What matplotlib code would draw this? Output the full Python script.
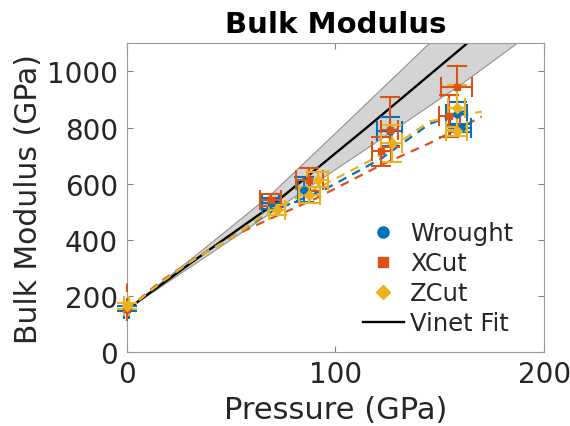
import numpy as np
import matplotlib
matplotlib.use("Agg")
import matplotlib.pyplot as plt
from matplotlib.lines import Line2D

# ---------------- data ----------------
# Vinet fit and its uncertainty band
fit_P = [0, 35, 69, 115, 163]
fit_K = [150, 340, 519, 800, 1100]
band_up_P = [0, 35, 69, 105, 145]
band_up_K = [150, 355, 560, 815, 1100]
band_lo_P = [0, 69, 120, 161, 187]
band_lo_K = [150, 495, 750, 958, 1100]

# per-sample dashed trend lines
wrought_line_P = [0, 16, 32, 53, 67.5, 95, 122, 145, 165.5]
wrought_line_K = [150, 245, 329, 420, 495, 580, 690, 813, 869]
xcut_line_P = [0, 16, 32, 53, 67.5, 90, 122, 145, 170]
xcut_line_K = [150, 250, 330, 420, 471, 545, 667, 744, 839]
zcut_line_P = [0, 16, 32, 53, 67.5, 96, 122, 145, 170]
zcut_line_K = [150, 245, 329, 420, 500, 602, 703, 822, 857]

# measured points
wrought_P = [0, 69, 85, 126, 158, 160]
wrought_K = [155, 530, 578, 786, 850, 798]
wrought_Kerr = [10, 20, 45, 50, 40, 15]
wrought_Perr = [1, 4, 3, 6, 5, 5]

xcut_P = [0, 69, 87.5, 122, 126, 154.5, 158]
xcut_K = [155, 542, 614, 715, 792, 842, 946]
xcut_Kerr_lo = [43, 20, 41, 53, 60, 74, 75]
xcut_Kerr_hi = [95, 20, 41, 53, 118, 74, 75]
xcut_Perr = [0.5, 5, 6.5, 4.5, 4, 5, 7.6]

zcut_P = [0, 72, 87.5, 91.6, 127, 158, 158]
zcut_K = [165, 507, 560, 614, 744, 786, 870]
zcut_Kerr = [10, 18, 28, 27, 65, 15, 80]
zcut_Perr = [1, 4, 5, 5, 5, 5, 4]

labels = ["Wrought", "XCut", "ZCut", "Vinet Fit"]
x_ticks = [0, 100, 200]
y_ticks = [0, 200, 400, 600, 800, 1000]

# ---------------- style ----------------
blue, orange, yellow = "#0072BD", "#D95319", "#EDB120"
txt = "#262626"
plt.rcParams["font.family"] = ["DejaVu Sans"]

fig = plt.figure(figsize=(5.7, 4.27), dpi=100)
ax = fig.add_axes([0.222, 0.1733, 0.733, 0.7227])

# band
poly_P = np.concatenate([band_up_P, band_lo_P[::-1]])
poly_K = np.concatenate([band_up_K, band_lo_K[::-1]])
ax.fill(poly_P, poly_K, facecolor="#d4d4d4", edgecolor="none", zorder=1)
ax.plot(band_up_P, band_up_K, color="#909090", lw=0.8, zorder=1.5)
ax.plot(band_lo_P, band_lo_K, color="#909090", lw=0.8, zorder=1.5)
ax.plot(fit_P, fit_K, color="black", lw=1.7, zorder=2)

# dashed trend lines
for P, K, c in [(wrought_line_P, wrought_line_K, blue),
                (xcut_line_P, xcut_line_K, orange),
                (zcut_line_P, zcut_line_K, yellow)]:
    ax.plot(P, K, color=c, lw=1.6, ls=(0, (4, 3)), zorder=3)

# error bars
ekw = dict(ls="none", elinewidth=1.5, capsize=7, capthick=1.5, zorder=4, clip_on=False)
ax.errorbar(wrought_P, wrought_K, yerr=wrought_Kerr, xerr=wrought_Perr,
            color=blue, marker="o", ms=5, **ekw)
# XCut ambient point drawn with a dashed bar, as in the original
eb0 = ax.errorbar(xcut_P[:1], xcut_K[:1], yerr=[xcut_Kerr_lo[:1], xcut_Kerr_hi[:1]],
                  xerr=xcut_Perr[:1], color=orange, marker="s", ms=5,
                  ls="none", elinewidth=1.5, capsize=0, zorder=4, clip_on=False)
for bc in eb0[2]:
    bc.set_linestyle((0, (4, 3)))
ax.errorbar(xcut_P[1:], xcut_K[1:], yerr=[xcut_Kerr_lo[1:], xcut_Kerr_hi[1:]],
            xerr=xcut_Perr[1:], color=orange, marker="s", ms=5, **ekw)
ax.errorbar(zcut_P, zcut_K, yerr=zcut_Kerr, xerr=zcut_Perr,
            color=yellow, marker="D", ms=5, **ekw)

ax.set_xlim(0, 200)
ax.set_ylim(0, 1100)
ax.set_xticks(x_ticks)
ax.set_yticks(y_ticks)
ax.tick_params(direction="in", length=4, width=0.8, colors="#808080",
               labelcolor=txt, labelsize=20, top=True, right=True, pad=6)
for s in ax.spines.values():
    s.set_color("#9a9a9a")
    s.set_linewidth(0.8)

ax.set_xlabel("Pressure (GPa)", fontsize=22, color=txt, labelpad=5)
ax.set_ylabel("Bulk Modulus (GPa)", fontsize=21.5, color=txt, labelpad=3)
ax.set_title("Bulk Modulus", fontsize=21, fontweight="bold", color="black", pad=8)

handles = [
    Line2D([], [], ls="none", marker="o", color=blue, ms=8),
    Line2D([], [], ls="none", marker="s", color=orange, ms=7),
    Line2D([], [], ls="none", marker="D", color=yellow, ms=7),
    Line2D([], [], color="black", lw=1.7),
]
leg = ax.legend(handles, labels, loc="lower right", bbox_to_anchor=(0.96, 0.007),
                frameon=False, fontsize=17.5, handlelength=1.7, handletextpad=0.25,
                labelspacing=0.25, borderaxespad=0.2)
for t in leg.get_texts():
    t.set_color(txt)

fig.savefig("out.png", dpi=100)
